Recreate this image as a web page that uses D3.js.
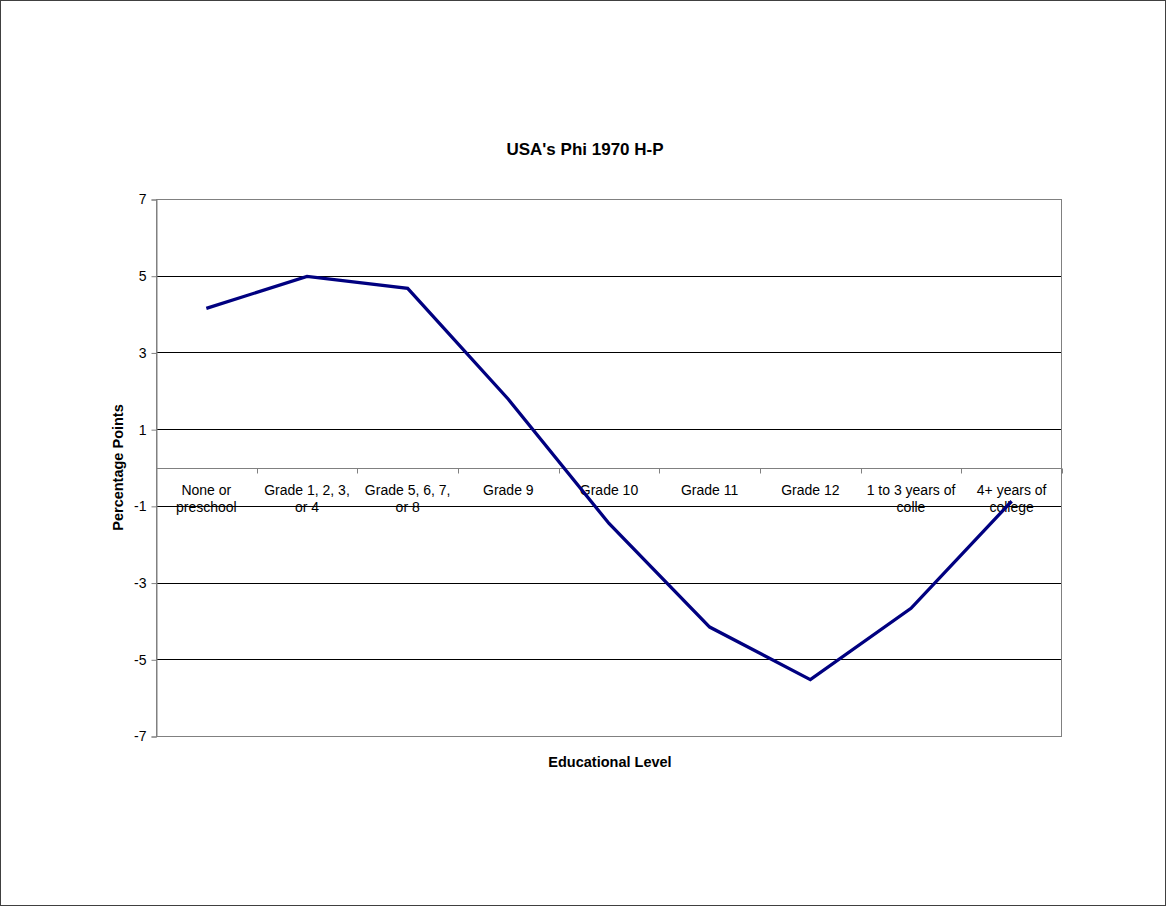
<!DOCTYPE html>
<html><head><meta charset="utf-8">
<script src="https://cdn.jsdelivr.net/npm/d3@7"></script>
<style>
html,body{margin:0;padding:0;background:#fff;}
svg{display:block;font-family:"Liberation Sans",Arial,sans-serif;}
</style></head>
<body>
<svg id="c" width="1167" height="907"></svg>
<script>
const categories = ["None or\npreschool","Grade 1, 2, 3,\nor 4","Grade 5, 6, 7,\nor 8","Grade 9","Grade 10","Grade 11","Grade 12","1 to 3 years of\ncolle","4+ years of\ncollege"];
const values = [4.15, 4.98, 4.67, 1.78, -1.46, -4.16, -5.53, -3.67, -0.88];
const yTicks = [-7, -5, -3, -1, 1, 3, 5, 7];
const titleText = "USA's Phi 1970 H-P";
const xTitle = "Educational Level";
const yTitle = "Percentage Points";

const svg = d3.select("#c");
const L = 156, R = 1062, T = 199, B = 736;

svg.append("rect").attr("x",0.5).attr("y",0.5).attr("width",1165).attr("height",905)
  .attr("fill","#fff").attr("stroke","#404040").attr("stroke-width",1);

const x = d3.scaleBand().domain(categories).range([L,R]).paddingInner(0).paddingOuter(0);
const y = d3.scaleLinear().domain([-7,7]).range([B,T]);

// gridlines
svg.append("g").selectAll("line").data(yTicks.filter(v=>v!==7 && v!==-7)).join("line")
  .attr("x1",L).attr("x2",R).attr("y1",d=>Math.round(y(d))+0.5).attr("y2",d=>Math.round(y(d))+0.5)
  .attr("stroke","#000").attr("stroke-width",1);

// plot border
svg.append("rect").attr("x",L+0.5).attr("y",Math.round(y(7))+0.5).attr("width",R-L-1)
  .attr("height",Math.round(y(-7))-Math.round(y(7))).attr("fill","none").attr("stroke","#808080");

// y axis
const yAxis = d3.axisLeft(y).tickValues(yTicks).tickSize(5).tickPadding(5).tickFormat(d=>String(d));
const gy = svg.append("g").attr("transform",`translate(${L+0.5},0.5)`).call(yAxis);
gy.select(".domain").attr("stroke","#808080");
gy.selectAll(".tick line").attr("stroke","#808080");
gy.selectAll(".tick text").attr("font-size",14).attr("fill","#000").attr("font-family","Liberation Sans, Arial, sans-serif");

// x axis at zero
const y0 = Math.round(y(0))+0.5;
const gx = svg.append("g").attr("transform",`translate(0,${y0})`);
gx.append("line").attr("x1",L).attr("x2",R).attr("stroke","#808080");
const bounds = categories.map(c=>x(c)).concat([R]);
gx.selectAll("line.tk").data(bounds).join("line").attr("class","tk")
  .attr("x1",d=>Math.round(d)+0.5).attr("x2",d=>Math.round(d)+0.5).attr("y1",0).attr("y2",5)
  .attr("stroke","#808080");
const lbl = gx.selectAll("text").data(categories).join("text")
  .attr("x",d=>x(d)+x.bandwidth()/2).attr("y",26)
  .attr("text-anchor","middle").attr("font-size",14).attr("fill","#000");
lbl.each(function(d){
  const lines = d.split("\n");
  d3.select(this).selectAll("tspan").data(lines).join("tspan")
    .attr("x",x(d)+x.bandwidth()/2).attr("dy",(l,i)=>i===0?0:17).text(l=>l);
});

// line
const line = d3.line().x(d=>x(d.c)+x.bandwidth()/2).y(d=>y(d.v));
svg.append("path").datum(categories.map((c,i)=>({c,v:values[i]})))
  .attr("d",line).attr("fill","none").attr("stroke","#000080").attr("stroke-width",3.3)
  .attr("stroke-linejoin","miter");

// titles
svg.append("text").attr("x",585).attr("y",155).attr("text-anchor","middle")
  .attr("font-size",17).attr("font-weight","bold").text(titleText);
svg.append("text").attr("x",610).attr("y",767).attr("text-anchor","middle")
  .attr("font-size",14.5).attr("font-weight","bold").text(xTitle);
svg.append("text").attr("transform",`translate(123,${(T+B)/2}) rotate(-90)`).attr("text-anchor","middle")
  .attr("font-size",14.5).attr("font-weight","bold").text(yTitle);
</script>
</body></html>
